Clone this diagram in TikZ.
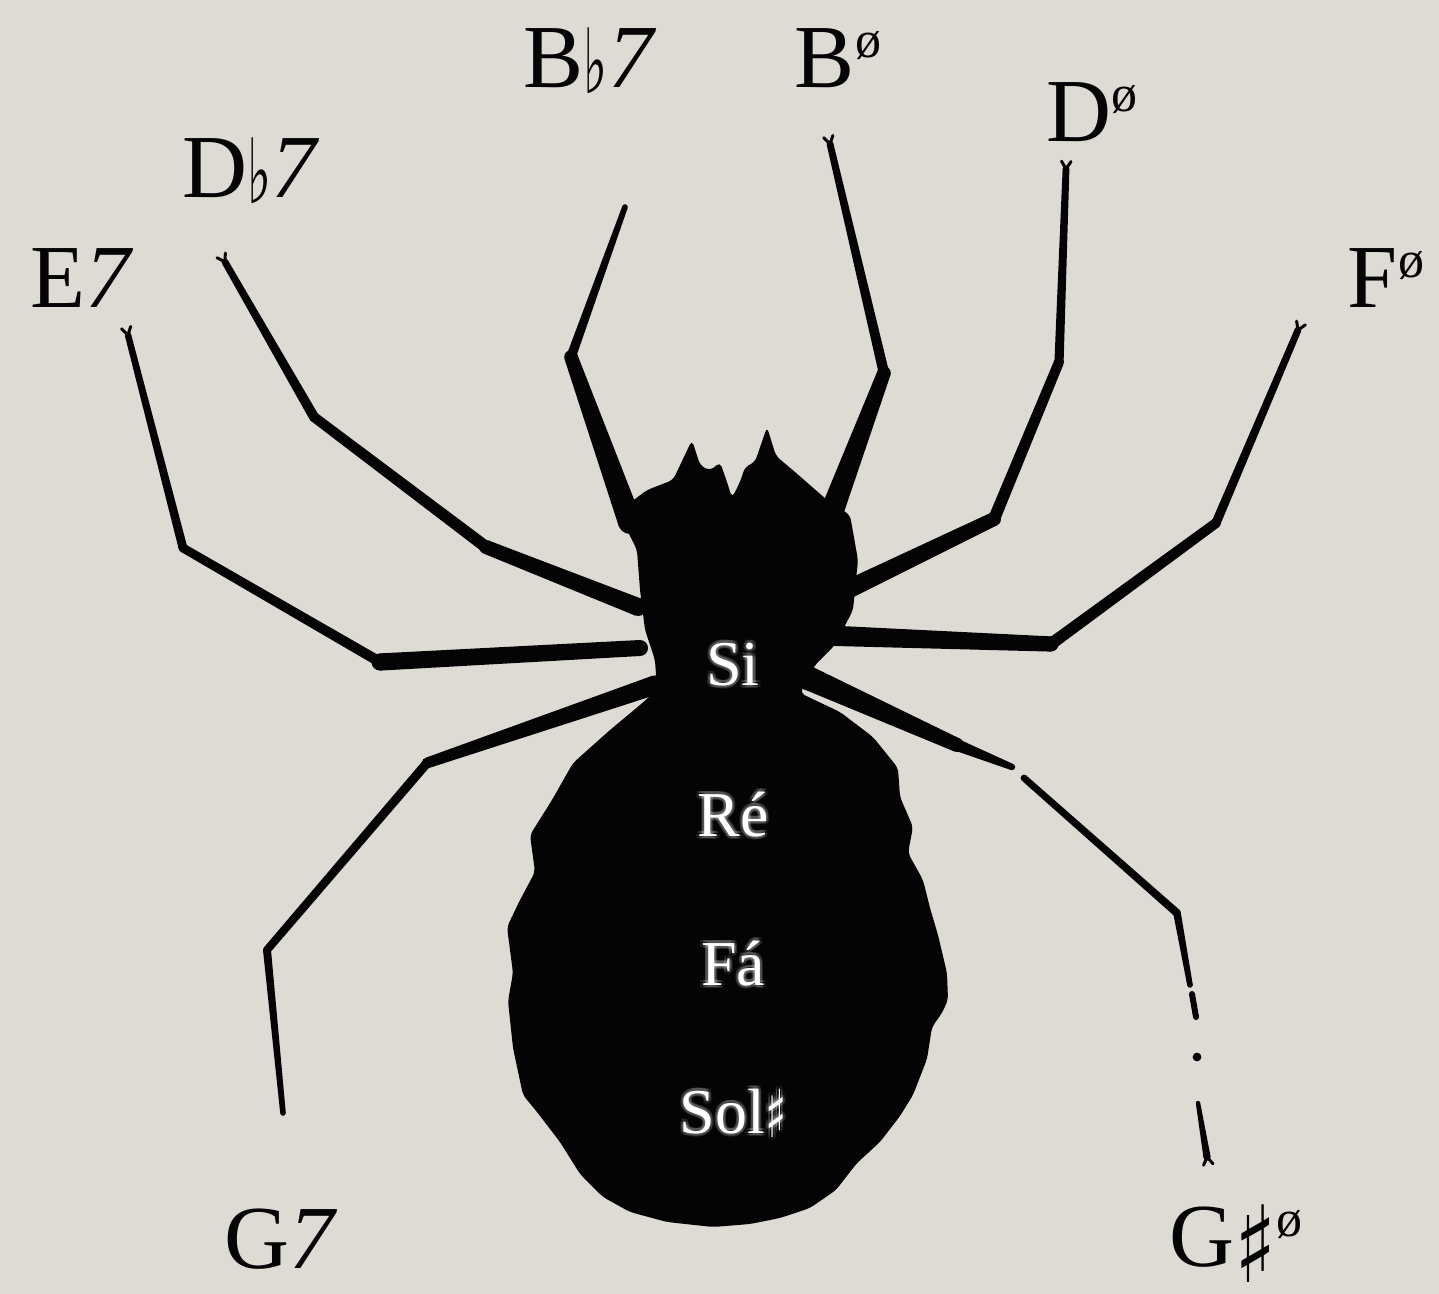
\documentclass[tikz,border=0pt]{standalone}
\usepackage{fontspec}
\setmainfont{Liberation Serif}
\newfontfamily\musicfont{DejaVu Sans}
\usetikzlibrary{calc}

\definecolor{paper}{RGB}{222,219,213}
\definecolor{ink}{RGB}{4,4,4}

% chord symbols
\newcommand\chordflat{\raisebox{-3pt}{\scalebox{0.85}[1.5]{\fontsize{30}{30}\musicfont ♭}}}
\newcommand\chordhd{\raisebox{15pt}{\fontsize{26}{26}\selectfont ø}}
\newcommand\chordsharp{\raisebox{-8pt}[0pt][0pt]{\scalebox{1.15}[1.4]{\fontsize{38}{38}\musicfont ♯}}}
\newcommand\notesharp{\raisebox{-2pt}{\scalebox{1}[1.5]{\fontsize{22}{22}\musicfont ♯}}}

% one tapered leg segment between two named points, half widths #3 and #4
\newcommand\legseg[4]{%
  \fill[ink] ($(#1)!#3!90:(#2)$) -- ($(#2)!#4!-90:(#1)$) -- ($(#2)!#4!90:(#1)$) -- ($(#1)!#3!-90:(#2)$) -- cycle;
  \fill[ink] (#1) circle[radius=#3];
  \fill[ink] (#2) circle[radius=#4];}
% little forked claw at a leg tip #1, leg coming from #2
\newcommand\claw[2]{%
  \draw[ink, line width=1.5pt, line cap=round]
    ($(#1)!-4.5pt!32:(#2)$) -- (#1) -- ($(#1)!-4.5pt!-32:(#2)$);}

% white note name with a soft halo round it
\newcommand\notelabel[3]{%
  \coordinate (#1pos) at (#2);
  \foreach \a in {0,45,...,315}{%
    \node[note, opacity=0.12] (#1glow\a) at ($(#1pos)+(\a:1.5pt)$) {#3};}
  \node[note] (#1) at (#1pos) {#3};}

\begin{document}
\begin{tikzpicture}[x=0.5pt, y=-0.5pt,
  chord/.style={font=\fontsize{45}{54}\selectfont, text=ink, anchor=base, inner sep=0pt},
  note/.style={font=\fontsize{32}{38}\selectfont, text=white, anchor=base, inner sep=0pt}]

\fill[paper] (0,0) rectangle (1439,1294);
\useasboundingbox (0,0) rectangle (1439,1294);

% ---- body: cephalothorax and abdomen ----
\fill[ink, rounded corners=2.5pt]
  (620,515) -- (627,505) -- (647,490) -- (673,480) -- (692,440) -- (700,465)
  -- (710,471) -- (720,462) -- (727,482) -- (732,498) -- (740,482) -- (745,467)
  -- (755,462) -- (767,427) -- (776,456) -- (795,472) -- (827,500) -- (850,515)
  -- (858,560) -- (853,610) -- (835,645) -- (815,665) -- (800,693)
  -- (840,712) -- (873,737) -- (898,768) -- (900,797) -- (913,827) -- (908,853)
  -- (923,880) -- (930,908) -- (938,935) -- (947,973) -- (948,1000) -- (942,1013)
  -- (932,1027) -- (927,1059) -- (913,1095) -- (900,1116) -- (880,1142)
  -- (857,1163) -- (836,1190) -- (810,1208) -- (780,1218) -- (750,1224)
  -- (713,1227) -- (667,1222) -- (630,1212) -- (603,1197) -- (580,1174)
  -- (560,1142) -- (537,1112) -- (523,1095) -- (513,1048) -- (508,1001)
  -- (513,973) -- (507,927) -- (520,900) -- (535,872) -- (530,835) -- (552,800)
  -- (573,763) -- (610,730) -- (640,705) -- (657,690) -- (655,660) -- (645,630)
  -- (640,590) -- (637,550) -- (627,530) -- cycle;

% ---- legs, left side ----
% E7 leg
\coordinate (e0) at (640,648); \coordinate (e1) at (380,662);
\coordinate (e2) at (183,548); \coordinate (e3) at (128,335);
\legseg{e0}{e1}{4pt}{4.3pt}
\legseg{e1}{e2}{2.6pt}{2.2pt}
\legseg{e2}{e3}{2.2pt}{1.6pt}
\claw{e3}{e2}
% Db7 leg
\coordinate (d0) at (638,607); \coordinate (d1) at (486,547);
\coordinate (d2) at (314,417); \coordinate (d3) at (225,262);
\legseg{d0}{d1}{4.5pt}{3.5pt}
\legseg{d1}{d2}{3pt}{2.5pt}
\legseg{d2}{d3}{2.5pt}{1.7pt}
\claw{d3}{d2}
% Bb7 leg
\coordinate (b0) at (630,522); \coordinate (b1) at (571,357);
\coordinate (b2) at (625,207);
\legseg{b0}{b1}{6pt}{3.4pt}
\legseg{b1}{b2}{2.4pt}{1.4pt}
% G7 leg
\coordinate (k0) at (655,685); \coordinate (k1) at (427,763);
\coordinate (k2) at (267,950); \coordinate (k3) at (283,1113);
\legseg{k0}{k1}{4.8pt}{2.7pt}
\legseg{k1}{k2}{2.3pt}{2pt}
\legseg{k2}{k3}{2pt}{1.4pt}

% ---- legs, right side ----
% B half-diminished leg
\coordinate (c0) at (828,522); \coordinate (c1) at (884,373);
\coordinate (c2) at (830,144);
\legseg{c0}{c1}{6pt}{3.4pt}
\legseg{c1}{c2}{2.6pt}{1.7pt}
\claw{c2}{c1}
% D half-diminished leg
\coordinate (f0) at (830,598); \coordinate (f1) at (994,519);
\coordinate (f2) at (1059,362); \coordinate (f3) at (1066,169);
\legseg{f0}{f1}{4.8pt}{3.5pt}
\legseg{f1}{f2}{3pt}{2.5pt}
\legseg{f2}{f3}{2.3pt}{1.7pt}
\claw{f3}{f2}
% F half-diminished leg
\coordinate (g0) at (812,635); \coordinate (g1) at (1051,644);
\coordinate (g2) at (1216,523); \coordinate (g3) at (1298,330);
\legseg{g0}{g1}{5.2pt}{3.8pt}
\legseg{g1}{g2}{3pt}{2.5pt}
\legseg{g2}{g3}{2.3pt}{1.7pt}
\claw{g3}{g2}
% G# half-diminished leg, broken in places
\coordinate (h0) at (808,678); \coordinate (h1) at (957,745);
\coordinate (h2) at (1012,767); \coordinate (h3) at (1024,778);
\coordinate (h4) at (1177,913); \coordinate (h5) at (1190,985);
\coordinate (h6) at (1192,994); \coordinate (h7) at (1196,1017);
\coordinate (h8) at (1197,1057); \coordinate (h9) at (1198,1103);
\coordinate (h10) at (1207,1157);
\legseg{h0}{h1}{6pt}{3.5pt}
\legseg{h1}{h2}{3pt}{1.6pt}
\legseg{h3}{h4}{1.7pt}{2pt}
\legseg{h4}{h5}{1.9pt}{1.4pt}
\legseg{h6}{h7}{1.5pt}{1.5pt}
\fill[ink] (h8) circle[radius=2.2pt];
\legseg{h9}{h10}{1.1pt}{1.8pt}
\claw{h10}{h9}

% ---- chord names round the spider ----
\node[chord] (lE7)  at (82,308)    {E\textit{7}};
\node[chord] (lDb7) at (251,198)   {D\chordflat\textit{7}};
\node[chord] (lBb7) at (590,88)    {B\chordflat\textit{7}};
\node[chord] (lBhd) at (838,88)    {B\chordhd};
\node[chord] (lDhd) at (1092,142)  {D\chordhd};
\node[chord] (lFhd) at (1386,308)  {F\chordhd};
\node[chord] (lG7)  at (281,1268)  {G\textit{7}};
\node[chord] (lGshd) at (1236,1266) {G\chordsharp\chordhd};

% ---- note names on the body ----
\notelabel{si}{733,685}{Si}
\notelabel{re}{733,836}{Ré}
\notelabel{fa}{733,985}{Fá}
\notelabel{sol}{733,1133}{Sol\notesharp}

\end{tikzpicture}
\end{document}
